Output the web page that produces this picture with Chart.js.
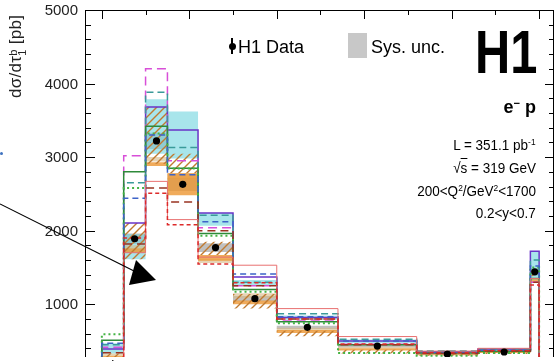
<!DOCTYPE html>
<html>
<head>
<meta charset="utf-8">
<script src="https://cdn.jsdelivr.net/npm/chart.js@4.4.1/dist/chart.umd.min.js"></script>
<style>
  html, body { margin: 0; padding: 0; background: #fff; overflow: hidden; }
  #wrap { position: relative; width: 558px; height: 361px; font-family: "Liberation Sans", Arial, Helvetica, sans-serif; color: #000; }
  #chart { position: absolute; left: 0; top: 0; width: 558px; height: 361px; }
  .txt { position: absolute; white-space: nowrap; line-height: 1; }
  .txt sup { font-size: 0.62em; vertical-align: 0.55em; line-height: 0; }
  .info { right: 22px; font-size: 15px; transform: scaleX(0.9); transform-origin: right center; }
</style>
</head>
<body>
<div id="wrap">
  <canvas id="chart" width="558" height="361"></canvas>

  <svg width="558" height="361" style="position:absolute;left:0;top:0">
    <line x1="0" y1="204" x2="134" y2="271" stroke="#000" stroke-width="1.1" />
    <polygon points="156,280 136,260 129,285" fill="#000" />
  </svg>
  <div style="position:absolute;left:0;top:152px;width:3px;height:3px;border-radius:2px;background:#3f73c0"></div>

  <div class="txt" style="left:7px;top:98px;font-size:17px;color:#222;letter-spacing:0.3px;transform-origin:0 0;transform:rotate(-90deg)">dσ/dτ<span style="display:inline-block;font-size:11px;line-height:9px;vertical-align:-5px">b<br>1</span> [pb]</div>

  <div style="position:absolute;left:231px;top:38px;width:1.5px;height:16px;background:#000"></div>
  <div style="position:absolute;left:229px;top:43px;width:7px;height:7px;border-radius:4px;background:#000"></div>
  <div class="txt" style="left:238px;top:38px;font-size:18px">H1 Data</div>
  <div style="position:absolute;left:348px;top:33px;width:19px;height:25px;background:#c8c8c8"></div>
  <div class="txt" style="left:371px;top:38px;font-size:18px">Sys. unc.</div>

  <div class="txt" style="left:475px;top:22px;font-size:61px;font-weight:bold;transform:scaleX(0.8);transform-origin:left center">H1</div>

  <div class="txt" style="right:22px;top:98px;font-size:18px;font-weight:bold">e<sup>−</sup> p</div>
  <div class="txt info" style="top:137px">L = 351.1 pb<sup>-1</sup></div>
  <div class="txt info" style="top:160px">√<span style="text-decoration:overline">s</span> = 319 GeV</div>
  <div class="txt info" style="top:183px">200&lt;Q<sup>2</sup>/GeV<sup>2</sup>&lt;1700</div>
  <div class="txt info" style="top:205px">0.2&lt;y&lt;0.7</div>
</div>

<script>
// bin edges in tau_1^b
const binEdges = [0, 0.05, 0.1, 0.15, 0.22, 0.3, 0.4, 0.54, 0.72, 0.86, 0.98, 1.0];

// H1 data (pb), stat and sys uncertainties
const h1Data = [230, 1890, 3220, 2630, 1770, 1075, 685, 430, 322, 350, 1440];
const h1Stat = [10, 30, 40, 35, 25, 16, 10, 7, 6, 7, 35];
const h1Sys = [15, 70, 110, 90, 60, 35, 22, 14, 10, 11, 50];

// model predictions, drawn as step histograms
const magentaDash = [415, 3020, 4200, 2950, 2040, 1250, 770, 455, 335, 365, 1300];
const tealDash = [450, 2650, 3880, 3130, 2210, 1300, 870, 523, 362, 392, 1600];
const greenSolid = [510, 2800, 3420, 2850, 1960, 1200, 760, 450, 335, 360, 1350];
const greenDot = [590, 2580, 3320, 2845, 1930, 1170, 740, 335, 300, 335, 1500];
const blueDash = [470, 2440, 3300, 2760, 2120, 1410, 830, 500, 345, 375, 1520];
const purpleSolid = [390, 2105, 3680, 3370, 2240, 1370, 820, 500, 355, 392, 1720];
const redDash = [250, 1900, 2510, 2080, 1545, 1290, 800, 460, 340, 370, 1260];
const darkRedDash = [340, 1820, 2580, 2390, 2000, 1250, 800, 450, 330, 362, 1300];
const pinkSolid = [240, 1700, 2670, 2150, 1640, 1530, 940, 560, 362, 400, 1350];

// uncertainty bands of the predictions (low / high)
const cyanLo = [330, 1610, 3045, 2980, 2065, 1250, 790, 470, 338, 360, 1340];
const cyanHi = [470, 1950, 3785, 3620, 2240, 1330, 845, 520, 362, 392, 1720];
const hatchLo = [280, 1610, 2910, 2780, 1670, 940, 565, 330, 300, 322, 1380];
const hatchHi = [330, 2105, 3680, 3045, 1850, 1140, 640, 380, 320, 345, 1460];
const orangeLo = [260, 1700, 2880, 2480, 1590, 1000, 610, 370, 305, 335, 1300];
const orangeHi = [300, 1760, 2930, 2780, 1670, 1050, 650, 400, 318, 350, 1340];
const tanLo = [300, 1760, 2940, 2700, 1560, 1080, 640, 400, 318, 345, 1420];
const tanHi = [330, 1800, 3000, 2780, 1610, 1150, 680, 420, 328, 355, 1460];

// axis ticks
const yLabels = [1000, 2000, 3000, 4000, 5000];
const yMinorStep = 200;
const xTicks = [0, 0.1, 0.2, 0.3, 0.4, 0.5, 0.6, 0.7, 0.8, 0.9, 1.0];

const last = binEdges.length - 1;
const binCenters = h1Data.map((v, i) => (binEdges[i] + binEdges[i + 1]) / 2);

const stepPts = (vals) =>
  vals.map((v, i) => ({ x: binEdges[i], y: v })).concat([{ x: binEdges[last], y: vals[vals.length - 1] }]);
const histPts = (vals) => [{ x: binEdges[0], y: 0 }].concat(stepPts(vals), [{ x: binEdges[last], y: 0 }]);

const makeHatch = (color) => {
  const c = document.createElement("canvas");
  c.width = 8;
  c.height = 8;
  const g = c.getContext("2d");
  g.strokeStyle = color;
  g.lineWidth = 1.4;
  g.beginPath();
  g.moveTo(0, 8); g.lineTo(8, 0);
  g.moveTo(-2, 2); g.lineTo(2, -2);
  g.moveTo(6, 10); g.lineTo(10, 6);
  g.stroke();
  return g.createPattern(c, "repeat");
};

const datasets = [];

// data points on top
datasets.push({
  data: h1Data.map((v, i) => ({ x: binCenters[i], y: v })),
  showLine: false,
  pointRadius: 3.6,
  pointBackgroundColor: "#000",
  pointBorderWidth: 0,
  order: 0,
});

// first in the list ends up drawn on top
const lines = [
  { vals: redDash, color: "#dd2a2a", width: 1.5, dash: [4, 3] },
  { vals: pinkSolid, color: "#e87070", width: 1, dash: [] },
  { vals: darkRedDash, color: "#993322", width: 1.5, dash: [8, 5] },
  { vals: blueDash, color: "#3d63c8", width: 1.5, dash: [6, 4] },
  { vals: greenDot, color: "#44b444", width: 2, dash: [2, 3] },
  { vals: greenSolid, color: "#2e8a3a", width: 1.5, dash: [] },
  { vals: tealDash, color: "#3a9a9a", width: 1.5, dash: [7, 4] },
  { vals: magentaDash, color: "#d84fd8", width: 1.5, dash: [9, 5] },
  { vals: purpleSolid, color: "#6a35c8", width: 1.5, dash: [] },
];
lines.forEach((l) => {
  datasets.push({
    data: histPts(l.vals),
    stepped: "before",
    borderColor: l.color,
    borderWidth: l.width,
    borderDash: l.dash,
    pointRadius: 0,
    fill: false,
    order: 1,
  });
});

const sysLo = h1Data.map((v, i) => v - h1Sys[i]);
const sysHi = h1Data.map((v, i) => v + h1Sys[i]);

const bands = [
  { lo: hatchLo, hi: hatchHi, color: makeHatch("#c07a30"), order: 2 },
  { lo: orangeLo, hi: orangeHi, color: "rgba(236, 150, 50, 0.8)", order: 3 },
  { lo: tanLo, hi: tanHi, color: "rgba(214, 184, 132, 0.6)", order: 4 },
  { lo: cyanLo, hi: cyanHi, color: "rgba(110, 212, 222, 0.6)", order: 5 },
  { lo: sysLo, hi: sysHi, color: "rgba(185, 185, 185, 0.9)", order: 6 },
];
bands.forEach((b) => {
  const lowIndex = datasets.length;
  datasets.push({
    data: stepPts(b.lo),
    stepped: "before",
    borderColor: "rgba(0,0,0,0)",
    borderWidth: 0,
    pointRadius: 0,
    fill: false,
    order: b.order,
  });
  datasets.push({
    data: stepPts(b.hi),
    stepped: "before",
    borderColor: "rgba(0,0,0,0)",
    borderWidth: 0,
    pointRadius: 0,
    fill: lowIndex,
    backgroundColor: b.color,
    order: b.order,
  });
});

// frame, inner ticks, y labels and data error bars
const frameTicks = {
  id: "frameTicks",
  afterDatasetsDraw(chart) {
    const { ctx, scales: { x, y } } = chart;
    ctx.save();
    ctx.strokeStyle = "#000";
    ctx.lineWidth = 1.2;
    ctx.beginPath();
    h1Data.forEach((v, i) => {
      const px = x.getPixelForValue(binCenters[i]);
      ctx.moveTo(px, y.getPixelForValue(v - h1Stat[i]));
      ctx.lineTo(px, y.getPixelForValue(v + h1Stat[i]));
    });
    ctx.stroke();
    ctx.restore();
  },
  afterDraw(chart) {
    const { ctx, chartArea: a, scales: { x, y } } = chart;
    ctx.save();
    ctx.strokeStyle = "#000";
    ctx.lineWidth = 1;
    ctx.beginPath();
    ctx.moveTo(a.left + 0.5, a.bottom);
    ctx.lineTo(a.left + 0.5, a.top + 0.5);
    ctx.lineTo(a.right - 0.5, a.top + 0.5);
    ctx.lineTo(a.right - 0.5, a.bottom);
    for (let v = 2 * yMinorStep; v <= y.max; v += yMinorStep) {
      const py = Math.round(y.getPixelForValue(v)) + 0.5;
      const major = yLabels.includes(v);
      ctx.moveTo(a.left, py);
      ctx.lineTo(a.left + (major ? 10 : 6), py);
      ctx.moveTo(a.right, py);
      ctx.lineTo(a.right - (major ? 9 : 5), py);
    }
    xTicks.forEach((t, i) => {
      const px = Math.round(x.getPixelForValue(t)) + 0.5;
      ctx.moveTo(px, a.top);
      ctx.lineTo(px, a.top + (i % 2 === 0 ? 9 : 5));
    });
    ctx.stroke();

    ctx.fillStyle = "#222";
    ctx.font = "15px 'Liberation Sans', Arial, sans-serif";
    ctx.textAlign = "right";
    ctx.textBaseline = "middle";
    yLabels.forEach((v) => {
      ctx.fillText(String(v), a.left - 7, y.getPixelForValue(v) + 1);
    });
    ctx.restore();
  },
};

new Chart(document.getElementById("chart"), {
  type: "line",
  data: { datasets: datasets },
  options: {
    responsive: false,
    animation: false,
    devicePixelRatio: 1,
    events: [],
    layout: { padding: { left: 85, top: 10, right: 0, bottom: 0 } },
    plugins: { legend: { display: false }, tooltip: { enabled: false } },
    scales: {
      x: { type: "linear", min: -0.0385, max: 1.034, display: false },
      y: { type: "linear", min: 282, max: 5000, display: false },
    },
  },
  plugins: [frameTicks],
});
</script>
</body>
</html>
